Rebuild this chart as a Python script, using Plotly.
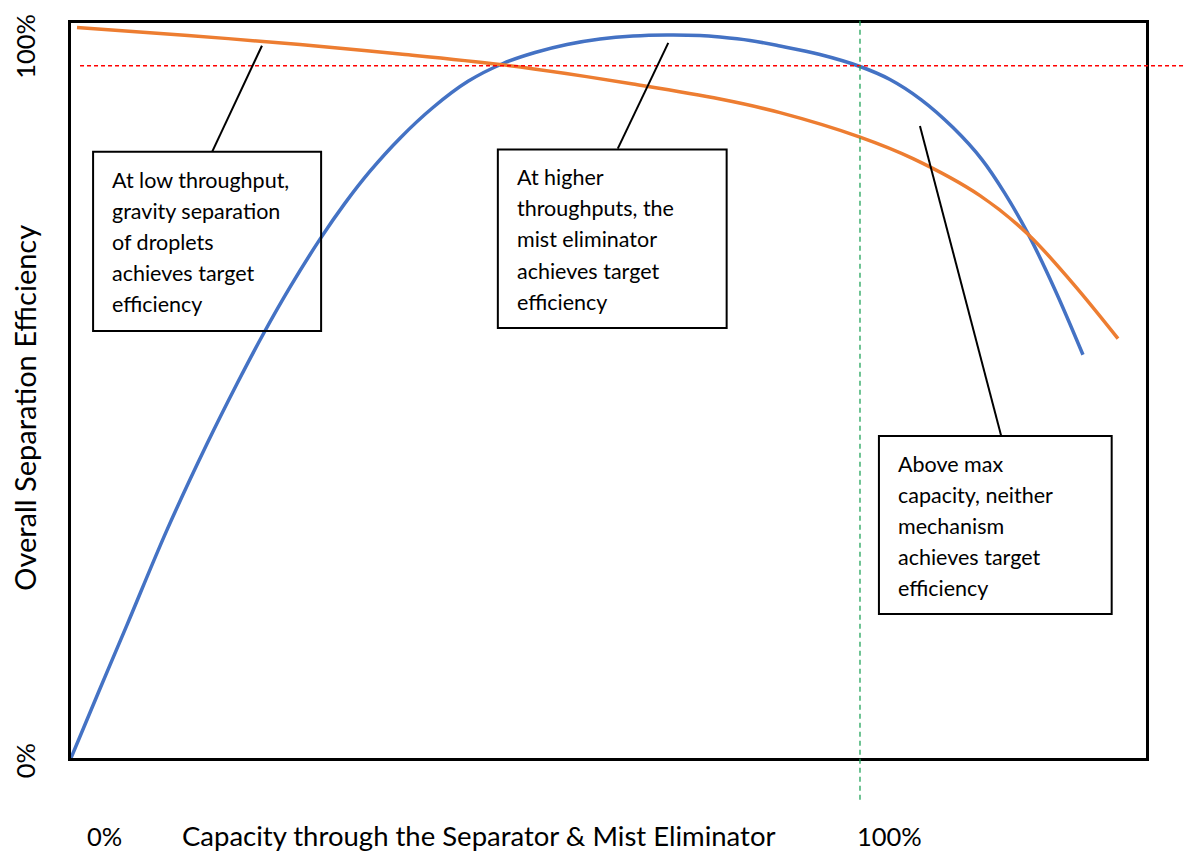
import plotly.graph_objects as go

# ---- data (capacity %, efficiency %) ----
blue_x = [0.0, 3.55, 7.10, 12.17, 17.24, 21.04, 24.46, 27.76, 31.56, 34.73, 37.90, 41.70,
          45.88, 50.32, 54.75, 58.81, 62.86, 67.05, 71.23, 75.54, 79.72, 82.26, 86.06,
          89.86, 94.93, 100.0, 103.80, 107.73, 111.79, 115.46, 118.38, 121.29, 124.71, 128.26]
blue_y = [0.0, 9.12, 18.11, 31.04, 42.75, 50.92, 57.86, 64.06, 70.59, 75.49, 79.84, 84.33,
          88.50, 92.06, 94.49, 95.98, 97.07, 97.82, 98.23, 98.37, 98.30, 98.09, 97.62,
          96.87, 95.71, 94.08, 92.31, 89.58, 85.77, 81.42, 76.79, 71.34, 63.72, 54.87]

orange_x = [0.76, 14.83, 29.02, 41.70, 54.37, 62.74, 71.23, 82.26, 89.86, 100.0, 106.72,
            115.21, 121.29, 127.00, 132.70]
orange_y = [99.39, 98.30, 97.07, 95.78, 94.35, 93.12, 91.70, 89.65, 87.81, 84.48, 81.55,
            76.52, 71.27, 64.53, 57.05]

target_eff = 94.2
max_capacity = 100
x_max = 136.25
y_max = 100

box_texts = [
    ["At low throughput,", "gravity separation", "of droplets", "achieves target", "efficiency"],
    ["At higher", "throughputs, the", "mist eliminator", "achieves target", "efficiency"],
    ["Above max", "capacity, neither", "mechanism", "achieves target", "efficiency"],
]
# box extents [x0, x1, y0, y1] in data units
boxes = [
    [2.8, 31.7, 58.1, 82.5],
    [54.1, 83.1, 58.5, 82.8],
    [102.4, 131.9, 19.6, 43.8],
]
# leader lines [x_curve, y_curve, x_box, y_box]
leaders = [
    [24.2, 96.9, 17.9, 82.5],
    [75.7, 97.3, 69.3, 82.9],
    [107.6, 86.0, 117.9, 43.8],
]

FONT = "Lato"
fig = go.Figure()
fig.add_trace(go.Scatter(x=blue_x, y=blue_y, mode="lines",
                         line=dict(color="#4472C4", width=3.5, shape="spline", smoothing=1.0),
                         hoverinfo="skip"))
fig.add_trace(go.Scatter(x=orange_x, y=orange_y, mode="lines",
                         line=dict(color="#ED7D31", width=3.5, shape="spline", smoothing=1.0),
                         hoverinfo="skip"))

shapes = []
# target efficiency line (red dashed) extends past right frame
shapes.append(dict(type="line", xref="paper", yref="y", x0=0.0084, x1=1.04,
                   y0=target_eff, y1=target_eff,
                   line=dict(color="#FF0000", width=1.5, dash="4px,3px")))
# max capacity line (green dashed)
shapes.append(dict(type="line", xref="x", yref="paper", x0=max_capacity, x1=max_capacity,
                   y0=1.003, y1=-0.057,
                   line=dict(color="#22A35A", width=1.3, dash="5px,4px")))
for (x0, x1, y0, y1) in boxes:
    shapes.append(dict(type="rect", xref="x", yref="y", x0=x0, x1=x1, y0=y0, y1=y1,
                       line=dict(color="black", width=2), fillcolor="rgba(0,0,0,0)"))
for (xa, ya, xb, yb) in leaders:
    shapes.append(dict(type="line", xref="x", yref="y", x0=xa, y0=ya, x1=xb, y1=yb,
                       line=dict(color="black", width=2)))

annotations = []
px_per_y = 734.5 / y_max
line_gap = 31.0 / px_per_y
for (x0, x1, y0, y1), lines in zip(boxes, box_texts):
    tx = x0 + 2.2
    ty = y1 - 28.0 / px_per_y
    for i, t in enumerate(lines):
        annotations.append(dict(x=tx, y=ty - i * line_gap, xref="x", yref="y", text=t,
                                showarrow=False, xanchor="left", yanchor="middle",
                                font=dict(family=FONT, size=21.5, color="black")))

title_font = dict(family=FONT, size=27.5, color="black")
ytitle_font = dict(family=FONT, size=29, color="black")
num_font = dict(family=FONT, size=25.5, color="black")
bottom_y = -0.1055
annotations += [
    dict(x=1.8, y=bottom_y, xref="x", yref="paper", text="0%", showarrow=False,
         xanchor="left", yanchor="middle", font=num_font),
    dict(x=99.4, y=bottom_y, xref="x", yref="paper", text="100%", showarrow=False,
         xanchor="left", yanchor="middle", font=num_font),
    dict(x=0.3795, y=bottom_y, xref="paper", yref="paper",
         text="Capacity through the Separator &amp; Mist Eliminator", showarrow=False,
         xanchor="center", yanchor="middle", font=title_font),
    dict(x=-0.0428, y=0.4765, xref="paper", yref="paper", text="Overall Separation Efficiency",
         showarrow=False, textangle=-90, xanchor="center", yanchor="middle", font=ytitle_font),
    dict(x=-0.0428, y=0.969, xref="paper", yref="paper", text="100%",
         showarrow=False, textangle=-90, xanchor="center", yanchor="middle", font=num_font),
    dict(x=-0.0428, y=-0.003, xref="paper", yref="paper", text="0%",
         showarrow=False, textangle=-90, xanchor="center", yanchor="middle", font=num_font),
]

fig.update_layout(
    width=1184, height=852,
    margin=dict(l=71, r=38, t=23, b=94),
    paper_bgcolor="white", plot_bgcolor="white",
    showlegend=False,
    shapes=shapes, annotations=annotations,
    xaxis=dict(range=[0, x_max], showgrid=False, zeroline=False, showticklabels=False,
               ticks="", showline=True, mirror=True, linecolor="black", linewidth=2.5),
    yaxis=dict(range=[0, y_max], showgrid=False, zeroline=False, showticklabels=False,
               ticks="", showline=True, mirror=True, linecolor="black", linewidth=2.5),
)

fig.write_html("out.html", config={"displayModeBar": False},
               post_script="document.body.style.margin='0';document.body.style.overflow='hidden';")
